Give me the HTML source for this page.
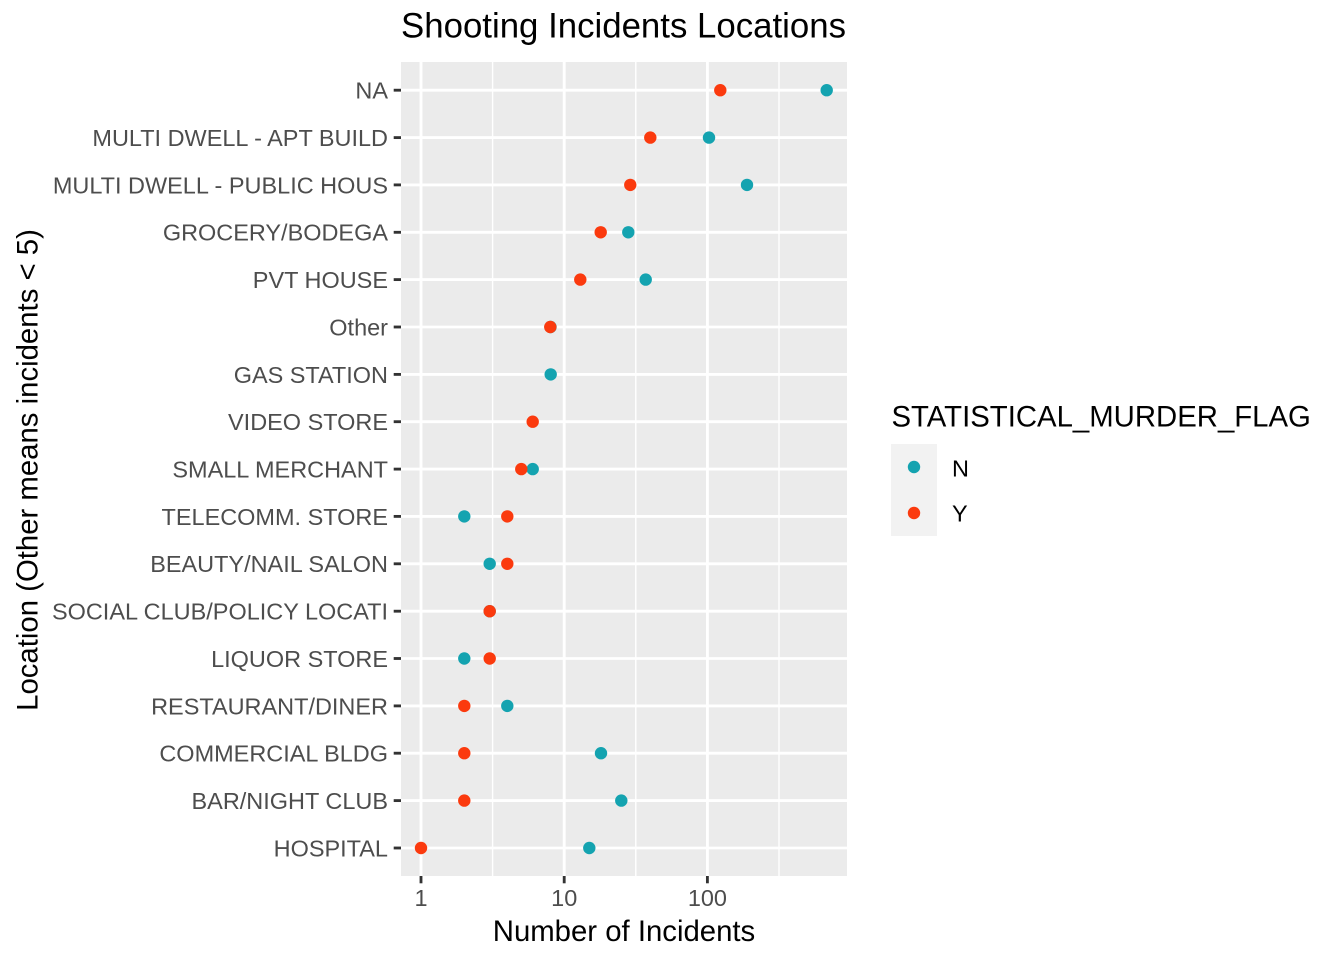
<!DOCTYPE html>
<html>
<head>
<meta charset="utf-8">
<style>
  html, body { margin: 0; padding: 0; background: #ffffff; }
  svg { display: block; }
  text { font-family: "Liberation Sans", Arial, Helvetica, sans-serif; }
</style>
</head>
<body>
<svg width="1344" height="960" viewBox="0 0 1344 960" xmlns="http://www.w3.org/2000/svg">
  <rect x="0" y="0" width="1344" height="960" fill="#ffffff"/>

  <!-- Title -->
  <text x="623.5" y="37.5" font-size="34.8" text-anchor="middle" fill="#000000">Shooting Incidents Locations</text>

  <!-- Panel -->
  <rect x="401" y="62" width="446" height="814" fill="#EBEBEB"/>

  <!-- minor vertical gridlines -->
  <g stroke="#ffffff" stroke-width="1.42">
    <line x1="492.6" y1="62" x2="492.6" y2="876"/>
    <line x1="635.8" y1="62" x2="635.8" y2="876"/>
    <line x1="779.0" y1="62" x2="779.0" y2="876"/>
  </g>
  <!-- major vertical gridlines -->
  <g stroke="#ffffff" stroke-width="2.84">
    <line x1="421" y1="62" x2="421" y2="876"/>
    <line x1="564.2" y1="62" x2="564.2" y2="876"/>
    <line x1="707.4" y1="62" x2="707.4" y2="876"/>
  </g>
  <!-- major horizontal gridlines -->
  <g stroke="#ffffff" stroke-width="2.84">
    <line x1="401" y1="90.2" x2="847" y2="90.2"/>
    <line x1="401" y1="137.6" x2="847" y2="137.6"/>
    <line x1="401" y1="184.9" x2="847" y2="184.9"/>
    <line x1="401" y1="232.3" x2="847" y2="232.3"/>
    <line x1="401" y1="279.6" x2="847" y2="279.6"/>
    <line x1="401" y1="327.0" x2="847" y2="327.0"/>
    <line x1="401" y1="374.4" x2="847" y2="374.4"/>
    <line x1="401" y1="421.7" x2="847" y2="421.7"/>
    <line x1="401" y1="469.1" x2="847" y2="469.1"/>
    <line x1="401" y1="516.4" x2="847" y2="516.4"/>
    <line x1="401" y1="563.8" x2="847" y2="563.8"/>
    <line x1="401" y1="611.2" x2="847" y2="611.2"/>
    <line x1="401" y1="658.5" x2="847" y2="658.5"/>
    <line x1="401" y1="705.9" x2="847" y2="705.9"/>
    <line x1="401" y1="753.2" x2="847" y2="753.2"/>
    <line x1="401" y1="800.6" x2="847" y2="800.6"/>
    <line x1="401" y1="848.0" x2="847" y2="848.0"/>
  </g>

  <!-- y ticks -->
  <g stroke="#333333" stroke-width="2.84">
    <line x1="393.7" y1="90.2" x2="401" y2="90.2"/>
    <line x1="393.7" y1="137.6" x2="401" y2="137.6"/>
    <line x1="393.7" y1="184.9" x2="401" y2="184.9"/>
    <line x1="393.7" y1="232.3" x2="401" y2="232.3"/>
    <line x1="393.7" y1="279.6" x2="401" y2="279.6"/>
    <line x1="393.7" y1="327.0" x2="401" y2="327.0"/>
    <line x1="393.7" y1="374.4" x2="401" y2="374.4"/>
    <line x1="393.7" y1="421.7" x2="401" y2="421.7"/>
    <line x1="393.7" y1="469.1" x2="401" y2="469.1"/>
    <line x1="393.7" y1="516.4" x2="401" y2="516.4"/>
    <line x1="393.7" y1="563.8" x2="401" y2="563.8"/>
    <line x1="393.7" y1="611.2" x2="401" y2="611.2"/>
    <line x1="393.7" y1="658.5" x2="401" y2="658.5"/>
    <line x1="393.7" y1="705.9" x2="401" y2="705.9"/>
    <line x1="393.7" y1="753.2" x2="401" y2="753.2"/>
    <line x1="393.7" y1="800.6" x2="401" y2="800.6"/>
    <line x1="393.7" y1="848.0" x2="401" y2="848.0"/>
  </g>
  <!-- x ticks -->
  <g stroke="#333333" stroke-width="2.84">
    <line x1="421" y1="876" x2="421" y2="883.3"/>
    <line x1="564.2" y1="876" x2="564.2" y2="883.3"/>
    <line x1="707.4" y1="876" x2="707.4" y2="883.3"/>
  </g>

  <!-- y tick labels -->
  <g font-size="23.47" fill="#4D4D4D" text-anchor="end">
    <text x="388" y="98.6">NA</text>
    <text x="388" y="146.0">MULTI DWELL - APT BUILD</text>
    <text x="388" y="193.3">MULTI DWELL - PUBLIC HOUS</text>
    <text x="388" y="240.7">GROCERY/BODEGA</text>
    <text x="388" y="288.0">PVT HOUSE</text>
    <text x="388" y="335.4">Other</text>
    <text x="388" y="382.8">GAS STATION</text>
    <text x="388" y="430.1">VIDEO STORE</text>
    <text x="388" y="477.5">SMALL MERCHANT</text>
    <text x="388" y="524.8">TELECOMM. STORE</text>
    <text x="388" y="572.2">BEAUTY/NAIL SALON</text>
    <text x="388" y="619.6">SOCIAL CLUB/POLICY LOCATI</text>
    <text x="388" y="666.9">LIQUOR STORE</text>
    <text x="388" y="714.3">RESTAURANT/DINER</text>
    <text x="388" y="761.6">COMMERCIAL BLDG</text>
    <text x="388" y="809.0">BAR/NIGHT CLUB</text>
    <text x="388" y="856.4">HOSPITAL</text>
  </g>

  <!-- x tick labels -->
  <g font-size="23.47" fill="#4D4D4D" text-anchor="middle">
    <text x="421" y="906">1</text>
    <text x="564.2" y="906">10</text>
    <text x="707.4" y="906">100</text>
  </g>

  <!-- axis titles -->
  <text x="624" y="941" font-size="29.33" text-anchor="middle" fill="#000000">Number of Incidents</text>
  <text transform="translate(37.3,470) rotate(-90)" x="0" y="0" font-size="29.33" text-anchor="middle" fill="#000000">Location (Other means incidents &lt; 5)</text>

  <!-- points: N (teal) -->
  <g fill="#14A3B0">
    <circle cx="826.7" cy="90.2" r="6.2"/>
    <circle cx="709" cy="137.6" r="6.2"/>
    <circle cx="747" cy="184.9" r="6.2"/>
    <circle cx="628.3" cy="232.3" r="6.2"/>
    <circle cx="645.7" cy="279.6" r="6.2"/>
    <circle cx="550.5" cy="327.0" r="6.2"/>
    <circle cx="550.7" cy="374.4" r="6.2"/>
    <circle cx="532.7" cy="469.1" r="6.2"/>
    <circle cx="464.3" cy="516.4" r="6.2"/>
    <circle cx="489.7" cy="563.8" r="6.2"/>
    <circle cx="489.7" cy="611.2" r="6.2"/>
    <circle cx="464.3" cy="658.5" r="6.2"/>
    <circle cx="507.3" cy="705.9" r="6.2"/>
    <circle cx="601" cy="753.2" r="6.2"/>
    <circle cx="621.3" cy="800.6" r="6.2"/>
    <circle cx="589.3" cy="848.0" r="6.2"/>
  </g>
  <!-- points: Y (red) -->
  <g fill="#FB3A0E">
    <circle cx="720.3" cy="90.2" r="6.2"/>
    <circle cx="650.3" cy="137.6" r="6.2"/>
    <circle cx="630.3" cy="184.9" r="6.2"/>
    <circle cx="600.7" cy="232.3" r="6.2"/>
    <circle cx="580.3" cy="279.6" r="6.2"/>
    <circle cx="550.3" cy="327.0" r="6.2"/>
    <circle cx="532.7" cy="421.7" r="6.2"/>
    <circle cx="521.3" cy="469.1" r="6.2"/>
    <circle cx="507.3" cy="516.4" r="6.2"/>
    <circle cx="507.3" cy="563.8" r="6.2"/>
    <circle cx="489.7" cy="611.2" r="6.2"/>
    <circle cx="489.7" cy="658.5" r="6.2"/>
    <circle cx="464.3" cy="705.9" r="6.2"/>
    <circle cx="464.3" cy="753.2" r="6.2"/>
    <circle cx="464.3" cy="800.6" r="6.2"/>
    <circle cx="421" cy="848.0" r="6.2"/>
  </g>

  <!-- Legend -->
  <text x="891.5" y="426.7" font-size="29.33" fill="#000000">STATISTICAL_MURDER_FLAG</text>
  <rect x="891" y="444" width="46" height="92" fill="#F2F2F2"/>
  <circle cx="914" cy="467" r="6.2" fill="#14A3B0"/>
  <circle cx="914" cy="513" r="6.2" fill="#FB3A0E"/>
  <text x="952" y="476.7" font-size="23.47" fill="#000000">N</text>
  <text x="952" y="521.7" font-size="23.47" fill="#000000">Y</text>
</svg>
</body>
</html>
